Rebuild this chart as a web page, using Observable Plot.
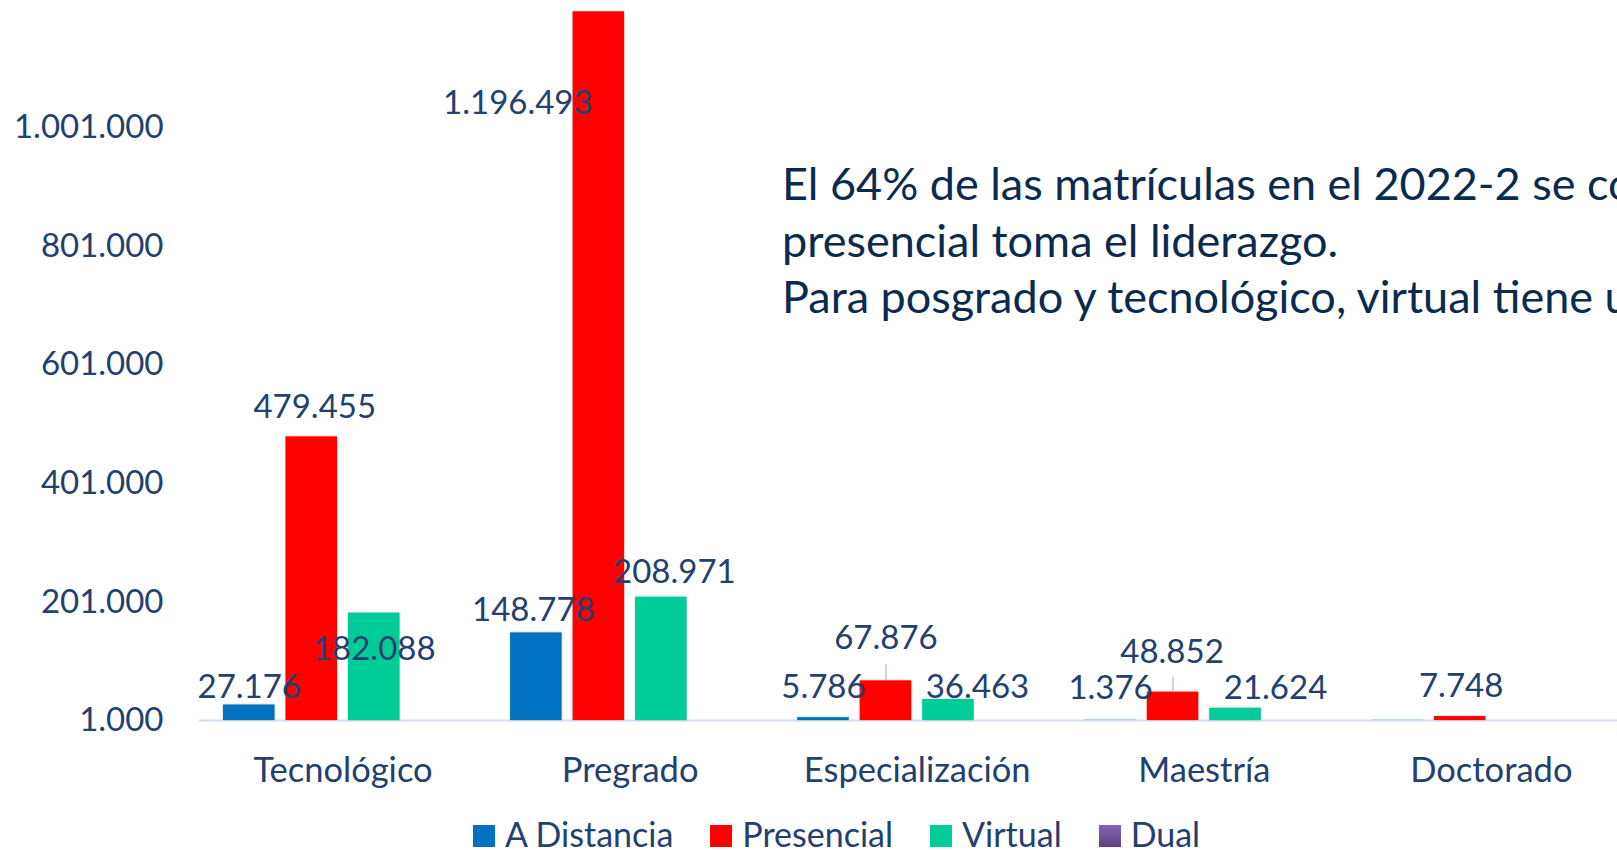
<!DOCTYPE html>
<html>
<head>
<meta charset="utf-8">
<script src="https://cdn.jsdelivr.net/npm/d3@7"></script>
<script src="https://cdn.jsdelivr.net/npm/@observablehq/plot@0.6"></script>
<style>
html,body{margin:0;padding:0;background:#fff;overflow:hidden;width:1617px;height:850px;}
#wrap{position:relative;width:1617px;height:850px;overflow:hidden;font-family:Lato,"Open Sans",sans-serif;}
#chart svg{display:block;}
#note{position:absolute;left:782px;top:155px;white-space:nowrap;font-size:45px;line-height:56.5px;color:#0B2A4F;}
#legend{position:absolute;left:473px;top:809px;white-space:nowrap;font-size:34px;line-height:50px;color:#23406E;}
.item{display:inline-block;margin-right:37px;}
.sw{display:inline-block;width:22px;height:22px;margin-right:10px;vertical-align:baseline;}
g[aria-label="bar"] rect{filter:drop-shadow(0 0 1px rgba(0,0,0,0.25));}
</style>
</head>
<body>
<div id="wrap">
  <div id="chart"></div>
  <div id="note"></div>
  <div id="legend"></div>
</div>
<script>
// ---- data ----
const categories = ["Tecnológico", "Pregrado", "Especialización", "Maestría", "Doctorado"];
const series = ["A Distancia", "Presencial", "Virtual", "Dual"];
const aDistancia = [27176, 148778, 5786, 1376, 1300];
const presencial = [479455, 1196493, 67876, 48852, 7748];
const virtual = [182088, 208971, 36463, 21624, 0];
const dual = [0, 0, 0, 0, 0];
const yTicks = [1000, 201000, 401000, 601000, 801000, 1001000];
const colors = ["#0070C0", "#FF0000", "#00CC99", "#7B5BA8"];
const noteLines = [
  "El 64% de las matrículas en el 2022-2 se concentran en pregrado, donde la modalidad",
  "presencial toma el liderazgo.",
  "Para posgrado y tecnológico, virtual tiene una mayor participación."
];

// ---- label placement (pixel offsets from bar top centre), as in the source ----
const labelOffsets = {
  "Tecnológico|A Distancia": [0, -18],
  "Tecnológico|Presencial": [3, -29],
  "Tecnológico|Virtual": [0, 36],
  "Pregrado|A Distancia": [-3, -22],
  "Pregrado|Presencial": [-81, 92],
  "Pregrado|Virtual": [13, -25],
  "Especialización|A Distancia": [0, -30],
  "Especialización|Presencial": [0, -42],
  "Especialización|Virtual": [29, -12],
  "Maestría|A Distancia": [0, -32],
  "Maestría|Presencial": [-1, -40],
  "Maestría|Virtual": [40, -20],
  "Doctorado|Presencial": [1, -30]
};
const leaderLines = {"Especialización|Presencial": 16, "Maestría|Presencial": 15};

const fmt = d3.formatLocale({decimal: ",", thousands: ".", grouping: [3], currency: ["", ""]}).format(",d");
const valuesBySeries = [aDistancia, presencial, virtual, dual];
const rows = [];
categories.forEach((c, i) => series.forEach((s, j) => rows.push({cat: c, series: s, value: valuesBySeries[j][i], key: c + "|" + s})));
const bars = rows.filter(d => d.value > yTicks[0]);
const labelRows = rows.filter(d => labelOffsets[d.key]);
const leaderRows = rows.filter(d => leaderLines[d.key]);

const labelColor = "#23406E";

const marks = [
  Plot.ruleY([yTicks[0]], {stroke: "#D3DFF0", strokeWidth: 2, insetLeft: -13.05, insetRight: -13.05}),
  Plot.barY(bars, {fx: "cat", x: "series", y1: yTicks[0], y2: "value", fill: "series"}),
  ...leaderRows.map(d => Plot.ruleX([d], {fx: "cat", x: "series", y1: "value", y2: "value", insetTop: -leaderLines[d.key], stroke: "#A9BFDD", strokeWidth: 1.3})),
  ...labelRows.map(d => Plot.text([d], {
    fx: "cat", x: "series", y: "value", text: r => fmt(r.value),
    dx: labelOffsets[d.key][0], dy: labelOffsets[d.key][1],
    fontSize: 33, fill: labelColor, lineAnchor: "middle"
  })),
  Plot.axisY(yTicks, {tickSize: 0, tickPadding: 49, tickFormat: fmt, fontSize: 33, label: null}),
  Plot.axisFx({anchor: "bottom", tickSize: 0, tickPadding: 37, fontSize: 34.5, label: null})
];

const chart = Plot.plot({
  width: 1617,
  height: 800,
  marginTop: 0,
  marginBottom: 80,
  marginLeft: 186,
  marginRight: 0,
  style: {color: labelColor, fontFamily: "Lato, 'Open Sans', sans-serif", background: "transparent", overflow: "hidden"},
  fx: {domain: categories, range: [185.9, 1647.5], paddingInner: 0.091, paddingOuter: 0.091, round: false, label: null},
  x: {domain: series, paddingInner: 0.176, paddingOuter: 0.176, round: false, axis: null},
  y: {domain: [1000, 1215600], label: null},
  color: {domain: series, range: colors},
  marks
});
document.getElementById("chart").appendChild(chart);

// annotation
const note = document.getElementById("note");
noteLines.forEach(t => { const d = document.createElement("div"); d.textContent = t; note.appendChild(d); });

// legend
const legend = document.getElementById("legend");
series.forEach((s, i) => {
  const item = document.createElement("span");
  item.className = "item";
  const sw = document.createElement("span");
  sw.className = "sw";
  sw.style.background = i === 3 ? "linear-gradient(#8565B0, #5E3F84)" : colors[i];
  item.appendChild(sw);
  item.appendChild(document.createTextNode(s));
  legend.appendChild(item);
});
</script>
</body>
</html>
